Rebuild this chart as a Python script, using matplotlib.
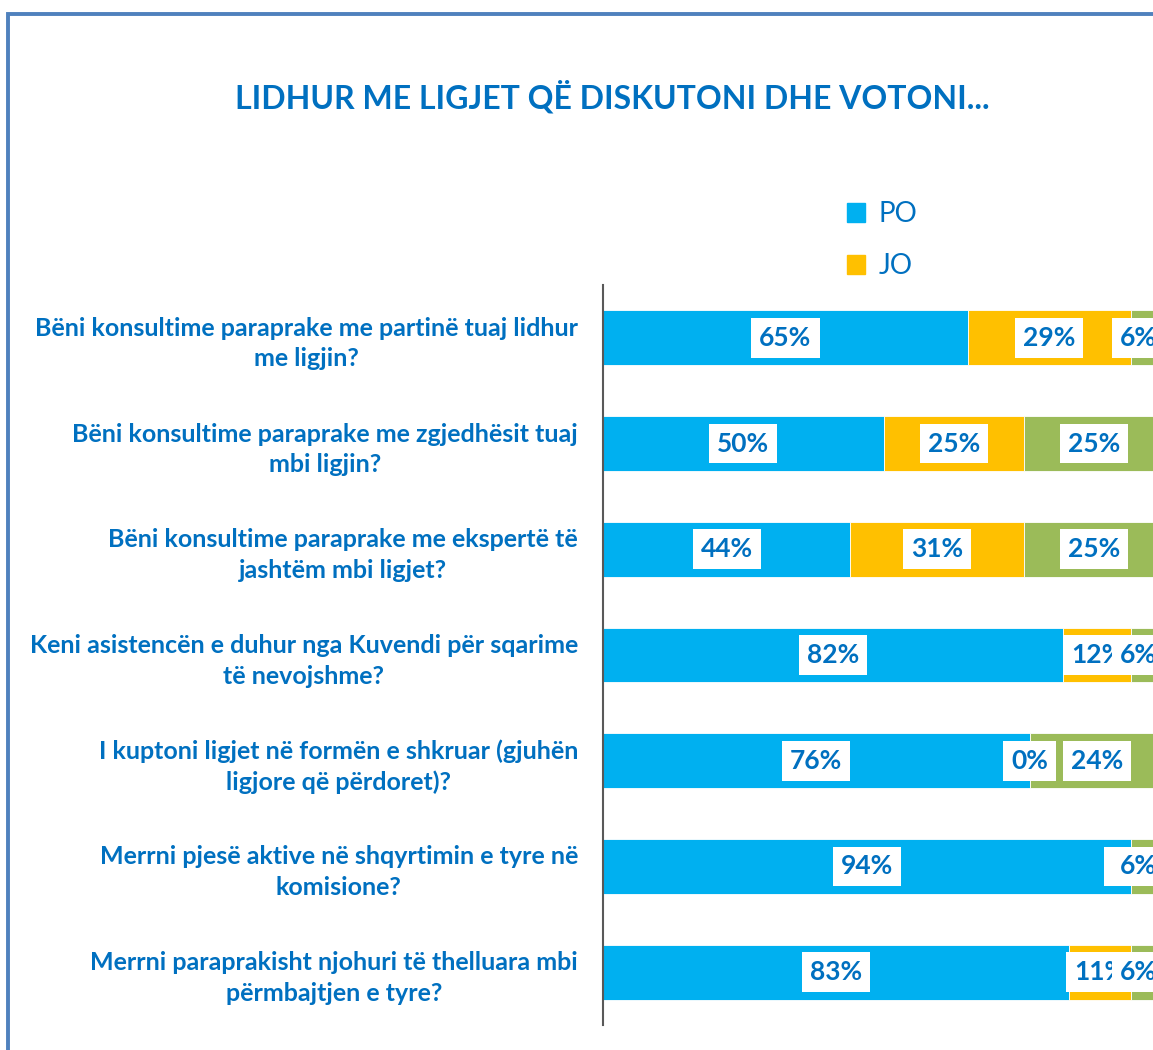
import matplotlib
matplotlib.use("Agg")
import matplotlib.pyplot as plt
import matplotlib.patches as mpatches
import numpy as np

# --- data ---
questions = [
    "Bëni konsultime paraprake me partinë tuaj lidhur\nme ligjin?",
    "Bëni konsultime paraprake me zgjedhësit tuaj\nmbi ligjin?",
    "Bëni konsultime paraprake me ekspertë të\njashtëm mbi ligjet?",
    "Keni asistencën e duhur nga Kuvendi për sqarime\ntë nevojshme?",
    "I kuptoni ligjet në formën e shkruar (gjuhën\nligjore që përdoret)?",
    "Merrni pjesë aktive në shqyrtimin e tyre në\nkomisione?",
    "Merrni paraprakisht njohuri të thelluara mbi\npërmbajtjen e tyre?",
]
po = [65, 50, 44, 82, 76, 94, 83]
jo = [29, 25, 31, 12, 0, 0, 11]
other = [6, 25, 25, 6, 24, 6, 6]

series_names = ["PO", "JO", "NDONJËHERË"]
series_colors = ["#00B0F0", "#FFC000", "#9BBB59"]
text_blue = "#0070C0"

plt.rcParams['font.family'] = ['Lato', 'DejaVu Sans']

W, H = 1153, 1050
fig = plt.figure(figsize=(W / 100, H / 100), dpi=100)

# axes: 0% at x=603 px, 100% at ~1164 px (chart is cut off at the right)
x0, x100 = 603, 1164.5
top, bottom = 285, 1025
ax = fig.add_axes([x0 / W, 1 - bottom / H, (x100 - x0) / W, (bottom - top) / H])

y = np.arange(len(questions))
left = np.zeros(len(questions))
for vals, name, col in zip([po, jo, other], series_names, series_colors):
    vals = np.array(vals, dtype=float)
    ax.barh(y, vals, left=left, height=0.52, color=col, edgecolor="white",
            linewidth=0.6, label=name)
    for yi, l, v in zip(y, left, vals):
        cx = min(l + v / 2, 95.3)
        ax.text(cx, yi, f"{int(v)}%", ha="center", va="center", fontsize=19,
                fontweight="bold", color=text_blue,
                bbox=dict(boxstyle="square,pad=0.3", fc="white", ec="none"))
    left += vals

ax.set_xlim(0, 100)
ax.set_ylim(len(questions) - 0.5, -0.5)
ax.set_yticks(y)
ax.set_yticklabels(questions, fontsize=18, fontweight="bold", color=text_blue,
                   multialignment="center", linespacing=1.4)
ax.tick_params(axis="y", length=0, pad=18)
ax.set_xticks([])
for s in ["top", "right", "bottom"]:
    ax.spines[s].set_visible(False)
ax.spines["left"].set_color("#595959")
ax.spines["left"].set_linewidth(1.5)

fig.text(612 / W, 1 - 97 / H, "LIDHUR ME LIGJET QË DISKUTONI DHE VOTONI...",
         ha="center", va="center", fontsize=23, fontweight="bold", color=text_blue)

handles = [mpatches.Patch(color=series_colors[0], label=series_names[0]),
           mpatches.Patch(color=series_colors[1], label=series_names[1])]
fig.legend(handles=handles, loc="upper left", bbox_to_anchor=(822 / W, 1 - 176 / H),
           frameon=False, fontsize=20, labelcolor=text_blue, handlelength=0.65,
           handleheight=0.65, handletextpad=0.5, labelspacing=0.95)

# chart border (only top and left visible in the crop)
fig.add_artist(mpatches.Rectangle((8 / W, -0.1), 1.2, 1 - 14 / H + 0.1,
                                  transform=fig.transFigure, fill=False,
                                  ec="#4F81BD", lw=2.8))

fig.savefig("out.png", dpi=100)
